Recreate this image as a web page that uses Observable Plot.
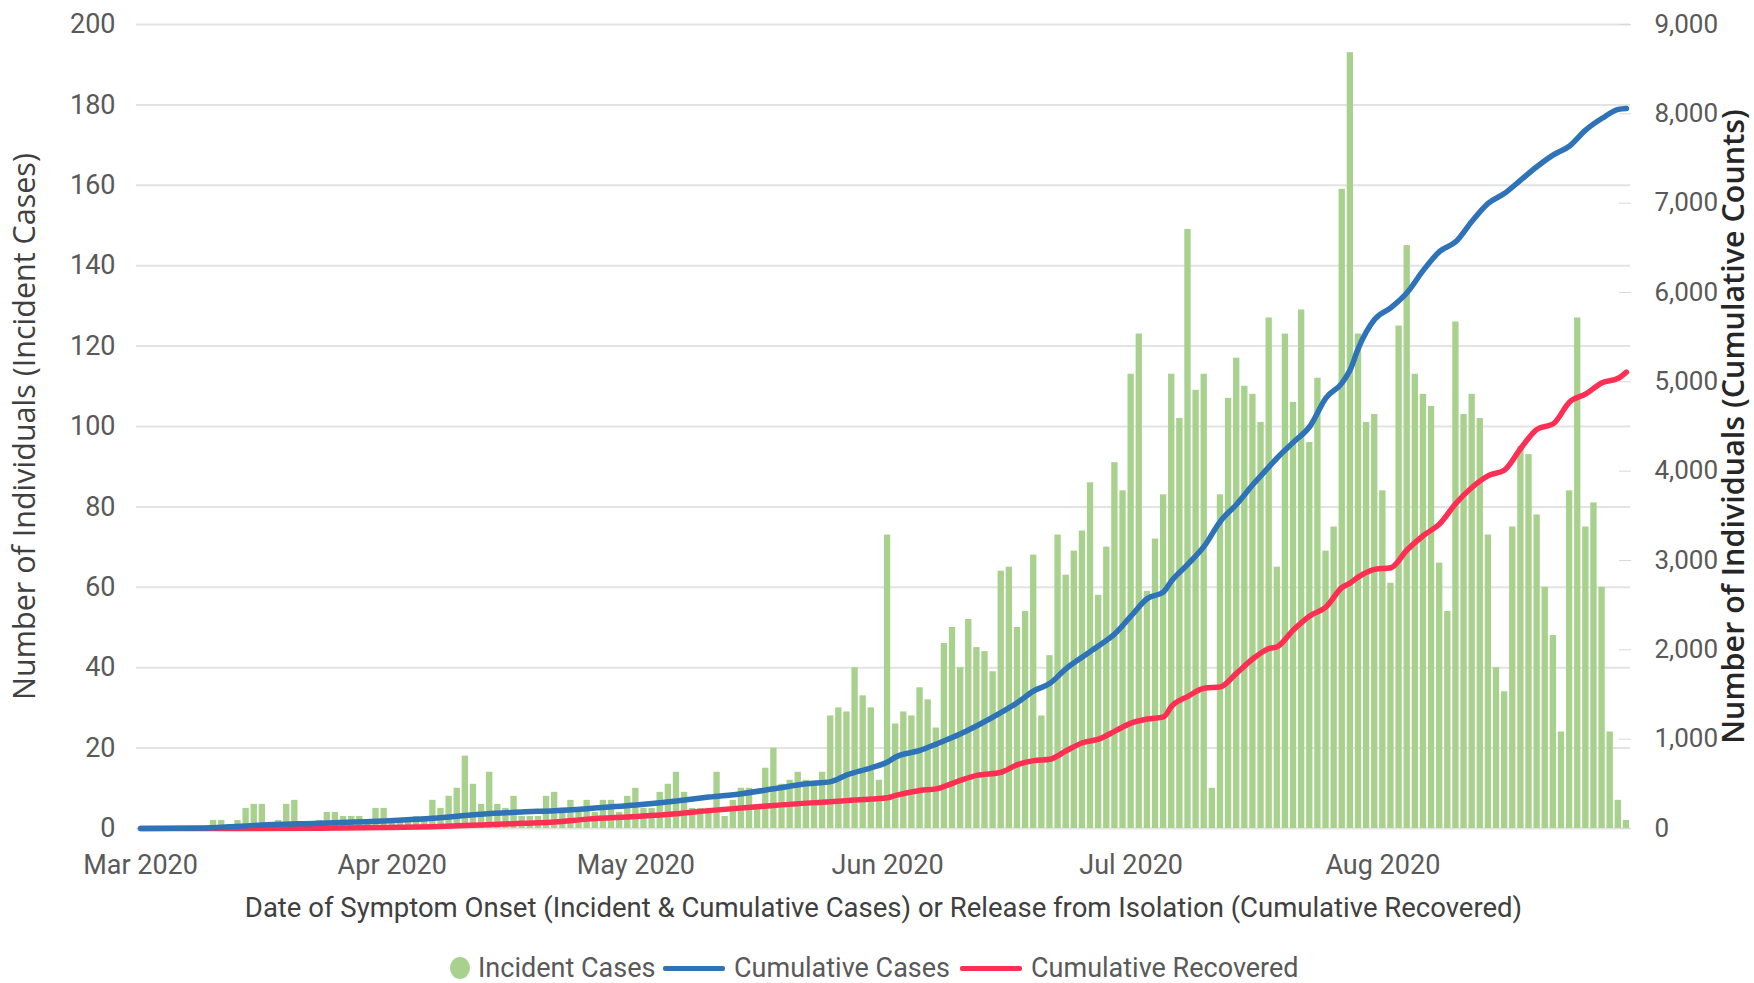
<!DOCTYPE html>
<html>
<head>
<meta charset="utf-8">
<script src="https://cdn.jsdelivr.net/npm/d3@7"></script>
<script src="https://cdn.jsdelivr.net/npm/@observablehq/plot@0.6"></script>
<style>
  html, body { margin: 0; padding: 0; background: #fff; }
  #wrap { position: relative; width: 1754px; height: 983px; overflow: hidden; font-family: Roboto, sans-serif; }
  #legend { position: absolute; left: 0; top: 948px; width: 1754px; height: 40px; }
  .item { position: absolute; top: 0; height: 40px; display: flex; align-items: center; font-size: 27px; color: #595959; white-space: nowrap; }
  .dot { width: 20px; height: 22px; border-radius: 50%; background: #a9d18e; }
  .ln { width: 62px; height: 5px; border-radius: 2px; }
</style>
</head>
<body>
<div id="wrap"><div id="chart"></div><div id="legend"></div></div>
<script>
// ---- data ----
const startDate = "2020-03-01";
const endDate = "2020-09-01"; // exclusive
// daily incident cases, Mar 1 .. Aug 31 2020
const incidentCases = [
  0,0,0,0,0,0,0,0,0,
  2,2,1,2,5,6,6,1,2,6,7,
  1,1,2,4,4,3,3,3,2,5,5,
  2,2,2,3,3,7,5,8,10,18,
  11,6,14,6,5,8,3,3,3,8,
  9,4,7,4,7,4,7,7,4,8,
  10,5,5,9,11,14,9,5,5,5,
  14,3,7,10,10,6,15,20,11,12,
  14,12,11,14,28,30,29,40,33,30,
  12,73,26,29,28,35,32,25,46,50,
  40,52,45,44,39,64,65,50,54,68,
  28,43,73,63,69,74,86,58,70,91,
  84,113,123,59,72,83,113,102,149,109,
  113,10,83,107,117,110,108,101,127,65,
  123,106,129,96,112,69,75,159,193,123,
  101,103,84,61,125,145,113,108,105,66,
  54,126,103,108,102,73,40,34,75,95,
  93,78,60,48,24,84,127,75,81,60,
  24,7,2
];
const cumDates = [
  "2020-03-01","2020-03-09","2020-03-15","2020-03-23","2020-03-31","2020-04-06","2020-04-12","2020-04-17",
  "2020-04-21","2020-04-25","2020-05-01","2020-05-06","2020-05-10","2020-05-14","2020-05-18","2020-05-22",
  "2020-05-25","2020-05-27","2020-05-30","2020-06-01","2020-06-02","2020-06-05","2020-06-07","2020-06-10",
  "2020-06-12","2020-06-15","2020-06-17","2020-06-19","2020-06-21","2020-06-23","2020-06-25","2020-06-27",
  "2020-06-29","2020-07-01","2020-07-03","2020-07-05","2020-07-06","2020-07-08","2020-07-10","2020-07-12",
  "2020-07-14","2020-07-16","2020-07-18","2020-07-19","2020-07-21","2020-07-23","2020-07-25","2020-07-27",
  "2020-07-28","2020-07-29","2020-07-31","2020-08-02","2020-08-04","2020-08-06","2020-08-08","2020-08-10",
  "2020-08-12","2020-08-14","2020-08-16","2020-08-18","2020-08-20","2020-08-22","2020-08-24","2020-08-26",
  "2020-08-28","2020-08-30","2020-08-31"
];
const cumCases = [
  0,5,35,60,85,115,160,185,
  200,222,262,308,352,390,444,500,
  525,600,680,745,800,874,945,1060,
  1150,1300,1410,1540,1625,1790,1920,2045,
  2180,2380,2575,2650,2775,2960,3160,3440,
  3630,3850,4050,4150,4325,4500,4820,4990,
  5140,5380,5700,5830,6000,6250,6460,6570,
  6800,7000,7110,7260,7410,7540,7640,7820,
  7950,8050,8060
];
const cumRecovered = [
  0,0,0,3,10,20,40,58,
  72,105,135,166,200,230,258,284,
  300,312,330,345,370,426,444,540,
  594,630,715,760,775,870,960,1000,
  1090,1180,1225,1250,1370,1480,1570,1585,
  1740,1900,2015,2035,2225,2380,2480,2700,
  2750,2816,2900,2919,3120,3280,3410,3640,
  3820,3950,4014,4257,4470,4530,4774,4865,
  4990,5040,5108
];
const monthTicks = ["2020-03-01","2020-04-01","2020-05-01","2020-06-01","2020-07-01","2020-08-01"];
const leftTicks = [0,20,40,60,80,100,120,140,160,180,200];
const rightTicks = [0,1000,2000,3000,4000,5000,6000,7000,8000,9000];
const leftMax = 200, rightMax = 9000;

// ---- build ----
const parse = d3.utcParse("%Y-%m-%d");
const days = d3.utcDay.range(parse(startDate), parse(endDate));
const bars = days.map((date, i) => ({date, value: incidentCases[i]}));
const cum = cumDates.map((s, i) => ({date: parse(s), cases: cumCases[i], recovered: cumRecovered[i]}));
const toLeft = v => v * leftMax / rightMax;
const fmt = d3.format(",");

const chart = Plot.plot({
  width: 1754,
  height: 935,
  marginLeft: 136,
  marginRight: 124,
  marginTop: 24,
  marginBottom: 107,
  style: {fontFamily: "Roboto, sans-serif", fontSize: "27px", color: "#595959", background: "#fff"},
  x: {type: "utc", domain: [d3.utcHour.offset(days[0], -12), d3.utcHour.offset(days[days.length - 1], 12)]},
  y: {domain: [0, leftMax]},
  marks: [
    Plot.gridY(leftTicks, {stroke: "#e3e3e3", strokeOpacity: 1, strokeWidth: 2}),
    Plot.rectY(bars, {
      x1: d => d3.utcHour.offset(d.date, -12),
      x2: d => d3.utcHour.offset(d.date, 12),
      y: "value", fill: "#a9d18e", insetLeft: 0.9, insetRight: 0.9
    }),
    Plot.lineY(cum, {x: "date", y: d => toLeft(d.recovered), stroke: "#ff2e55", strokeWidth: 5.5, curve: "monotone-x"}),
    Plot.lineY(cum, {x: "date", y: d => toLeft(d.cases), stroke: "#2e72b8", strokeWidth: 5.5, curve: "monotone-x"}),
    Plot.axisY(leftTicks, {anchor: "left", tickSize: 0, tickPadding: 21, label: null}),
    Plot.axisY(rightTicks.map(toLeft), {anchor: "right", tickSize: 12, insetRight: 12, stroke: "#d9d9d9", tickFormat: () => "", label: null}),
    Plot.axisY(rightTicks.map(toLeft), {anchor: "right", tickSize: 0, tickPadding: 24, fontSize: 26, tickFormat: d => fmt(Math.round(d * rightMax / leftMax)), label: null}),
    Plot.axisX(monthTicks.map(parse), {anchor: "bottom", tickSize: 0, tickPadding: 26, tickFormat: d3.utcFormat("%b %Y"), label: null}),
    Plot.text(["Number of Individuals (Incident Cases)"], {frameAnchor: "left", dx: -111, rotate: -90, textAnchor: "middle", lineAnchor: "middle", fontFamily: "'Open Sans', Roboto, sans-serif", fontSize: 30.5, fill: "#404040"}),
    Plot.text(["Number of Individuals (Cumulative Counts)"], {frameAnchor: "right", dx: 104, rotate: -90, textAnchor: "middle", lineAnchor: "middle", fontFamily: "'Open Sans', Roboto, sans-serif", fontSize: 30.5, fill: "#262626", fontWeight: 600}),
    Plot.text(["Date of Symptom Onset (Incident & Cumulative Cases) or Release from Isolation (Cumulative Recovered)"], {frameAnchor: "bottom", dy: 80, textAnchor: "middle", lineAnchor: "middle", fontSize: 27.5, fill: "#404040"})
  ]
});
document.getElementById("chart").appendChild(chart);

// ---- legend ----
const legendItems = [
  {label: "Incident Cases", kind: "dot", color: "#a9d18e", left: 450},
  {label: "Cumulative Cases", kind: "line", color: "#2e72b8", left: 663},
  {label: "Cumulative Recovered", kind: "line", color: "#ff2e55", left: 960}
];
const legend = document.getElementById("legend");
for (const it of legendItems) {
  const div = document.createElement("div");
  div.className = "item";
  div.style.left = it.left + "px";
  const sw = document.createElement("span");
  sw.className = it.kind === "dot" ? "dot" : "ln";
  sw.style.background = it.color;
  sw.style.marginRight = it.kind === "dot" ? "8px" : "9px";
  div.appendChild(sw);
  const t = document.createElement("span");
  t.textContent = it.label;
  div.appendChild(t);
  legend.appendChild(div);
}
</script>
</body>
</html>
